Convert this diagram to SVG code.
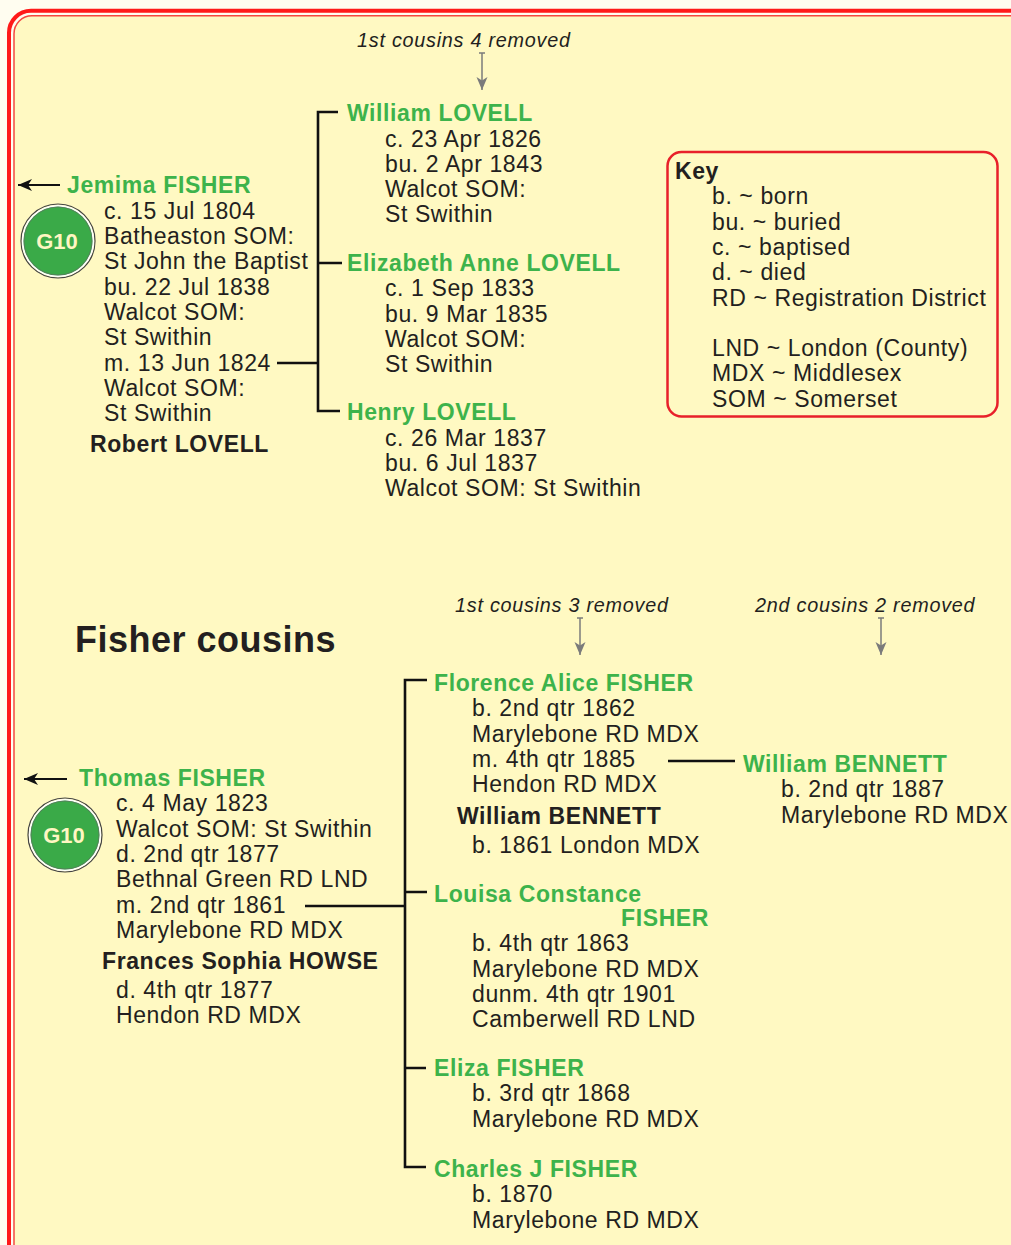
<svg xmlns="http://www.w3.org/2000/svg" width="1011" height="1245" viewBox="0 0 1011 1245">
<defs>
<style>
.t{font-family:"Liberation Sans",Arial,Helvetica,sans-serif;font-size:23px;fill:#231f20;letter-spacing:0.6px}
.g{font-weight:bold;fill:#3db34b}
.b{font-weight:bold}
.i{font-style:italic;font-size:19.8px;letter-spacing:0.75px}
.h{font-weight:bold;font-size:36px;letter-spacing:0.5px}
.c{fill:none;stroke:#111;stroke-width:2.6}
.ga{stroke:#7b7b7b;stroke-width:1.5;fill:none}
.gl{font-family:"Liberation Sans",Arial,sans-serif;font-weight:bold;font-size:22px;fill:#fff6c2;text-anchor:middle}
</style>
<marker id="ab" markerUnits="userSpaceOnUse" markerWidth="16" markerHeight="14" refX="14" refY="7" orient="auto" overflow="visible">
<path d="M0,1 L14,7 L0,13 L4,7 Z" fill="#111"/>
</marker>
<marker id="ag" markerUnits="userSpaceOnUse" markerWidth="14" markerHeight="12" refX="13" refY="6" orient="auto" overflow="visible">
<path d="M0,0.5 L13,6 L0,11.5 L3.5,6 Z" fill="#7b7b7b"/>
</marker>
</defs>
<rect x="0" y="0" width="1011" height="1245" fill="#fffdf0"/>
<g id="frame">
<rect x="9" y="10.8" width="1150" height="1300" rx="22" fill="#fffdf0" stroke="#ff1a1a" stroke-width="4"/>
<rect x="14" y="15.8" width="1150" height="1300" rx="18" fill="#fff9c2" stroke="#f5473f" stroke-width="1.5"/>
</g>
<g id="connectors">
<path class="c" d="M277,363 H318 M338,112 H318 V411 H340 M318,263 H342"/>
<path class="c" d="M305,906 H405 M427,680 H405 V1167 H426 M405,892 H427 M405,1068 H426 M668,761 H735"/>
<line x1="60" y1="185" x2="18" y2="185" stroke="#111" stroke-width="2.2" marker-end="url(#ab)"/>
<line x1="67" y1="779" x2="24" y2="779" stroke="#111" stroke-width="2.2" marker-end="url(#ab)"/>
<g class="ga">
<path d="M479,53 H485 M577,618 H583 M878,618 H884"/>
<line x1="482" y1="53" x2="482" y2="90" marker-end="url(#ag)"/>
<line x1="580" y1="618" x2="580" y2="655" marker-end="url(#ag)"/>
<line x1="881" y1="618" x2="881" y2="655" marker-end="url(#ag)"/>
</g>
</g>
<g id="labels">
<text class="t i" x="357" y="47">1st cousins 4 removed</text>
<text class="t i" x="455" y="612">1st cousins 3 removed</text>
<text class="t i" x="755" y="612">2nd cousins 2 removed</text>
<text class="t h" x="75" y="652">Fisher cousins</text>
</g>
<g id="g10-top">
<circle cx="58" cy="241" r="37" fill="none" stroke="#444" stroke-width="1.2"/>
<circle cx="58" cy="241" r="35.3" fill="#3aaa48" stroke="#fff" stroke-width="1.6"/>
<circle cx="58" cy="241" r="34" fill="none" stroke="#666" stroke-width="0.6"/>
<text class="gl" x="57" y="249">G10</text>
</g>
<g id="g10-bottom">
<circle cx="65" cy="835" r="37" fill="none" stroke="#444" stroke-width="1.2"/>
<circle cx="65" cy="835" r="35.3" fill="#3aaa48" stroke="#fff" stroke-width="1.6"/>
<circle cx="65" cy="835" r="34" fill="none" stroke="#666" stroke-width="0.6"/>
<text class="gl" x="64" y="843">G10</text>
</g>
<g id="jemima">
<text class="t g" x="67" y="193">Jemima FISHER</text>
<text class="t" x="104" y="218.5">c. 15 Jul 1804</text>
<text class="t" x="104" y="244">Batheaston SOM:</text>
<text class="t" x="104" y="269.3">St John the Baptist</text>
<text class="t" x="104" y="294.6">bu. 22 Jul 1838</text>
<text class="t" x="104" y="319.9">Walcot SOM:</text>
<text class="t" x="104" y="345.2">St Swithin</text>
<text class="t" x="104" y="370.5">m. 13 Jun 1824</text>
<text class="t" x="104" y="395.8">Walcot SOM:</text>
<text class="t" x="104" y="421.1">St Swithin</text>
<text class="t b" x="90" y="452">Robert LOVELL</text>
</g>
<g id="william-lovell">
<text class="t g" x="347" y="121">William LOVELL</text>
<text class="t" x="385" y="146.5">c. 23 Apr 1826</text>
<text class="t" x="385" y="171.8">bu. 2 Apr 1843</text>
<text class="t" x="385" y="197.1">Walcot SOM:</text>
<text class="t" x="385" y="222.4">St Swithin</text>
</g>
<g id="elizabeth-lovell">
<text class="t g" x="347" y="271">Elizabeth Anne LOVELL</text>
<text class="t" x="385" y="296.3">c. 1 Sep 1833</text>
<text class="t" x="385" y="321.6">bu. 9 Mar 1835</text>
<text class="t" x="385" y="346.9">Walcot SOM:</text>
<text class="t" x="385" y="372.2">St Swithin</text>
</g>
<g id="henry-lovell">
<text class="t g" x="347" y="420">Henry LOVELL</text>
<text class="t" x="385" y="445.5">c. 26 Mar 1837</text>
<text class="t" x="385" y="470.8">bu. 6 Jul 1837</text>
<text class="t" x="385" y="496.1">Walcot SOM: St Swithin</text>
</g>
<g id="key">
<rect x="667.5" y="152" width="330" height="264.5" rx="14" fill="none" stroke="#e8202a" stroke-width="2.5"/>
<text class="t b" x="675" y="179">Key</text>
<text class="t" x="712" y="204.3">b. ~ born</text>
<text class="t" x="712" y="229.6">bu. ~ buried</text>
<text class="t" x="712" y="254.9">c. ~ baptised</text>
<text class="t" x="712" y="280.2">d. ~ died</text>
<text class="t" x="712" y="305.5">RD ~ Registration District</text>
<text class="t" x="712" y="356.1">LND ~ London (County)</text>
<text class="t" x="712" y="381.4">MDX ~ Middlesex</text>
<text class="t" x="712" y="406.7">SOM ~ Somerset</text>
</g>
<g id="thomas">
<text class="t g" x="79" y="786">Thomas FISHER</text>
<text class="t" x="116" y="811.3">c. 4 May 1823</text>
<text class="t" x="116" y="836.6">Walcot SOM: St Swithin</text>
<text class="t" x="116" y="861.9">d. 2nd qtr 1877</text>
<text class="t" x="116" y="887.2">Bethnal Green RD LND</text>
<text class="t" x="116" y="912.5">m. 2nd qtr 1861</text>
<text class="t" x="116" y="937.8">Marylebone RD MDX</text>
<text class="t b" x="102" y="969">Frances Sophia HOWSE</text>
<text class="t" x="116" y="998">d. 4th qtr 1877</text>
<text class="t" x="116" y="1023.3">Hendon RD MDX</text>
</g>
<g id="florence">
<text class="t g" x="434" y="691">Florence Alice FISHER</text>
<text class="t" x="472" y="716.3">b. 2nd qtr 1862</text>
<text class="t" x="472" y="741.6">Marylebone RD MDX</text>
<text class="t" x="472" y="766.9">m. 4th qtr 1885</text>
<text class="t" x="472" y="792.2">Hendon RD MDX</text>
<text class="t b" x="457" y="824">William BENNETT</text>
<text class="t" x="472" y="853">b. 1861 London MDX</text>
</g>
<g id="william-bennett">
<text class="t g" x="743" y="772">William BENNETT</text>
<text class="t" x="781" y="797.3">b. 2nd qtr 1887</text>
<text class="t" x="781" y="822.6">Marylebone RD MDX</text>
</g>
<g id="louisa">
<text class="t g" x="434" y="902">Louisa Constance</text>
<text class="t g" x="709" y="926" text-anchor="end">FISHER</text>
<text class="t" x="472" y="951.3">b. 4th qtr 1863</text>
<text class="t" x="472" y="976.6">Marylebone RD MDX</text>
<text class="t" x="472" y="1001.9">dunm. 4th qtr 1901</text>
<text class="t" x="472" y="1027.2">Camberwell RD LND</text>
</g>
<g id="eliza">
<text class="t g" x="434" y="1076">Eliza FISHER</text>
<text class="t" x="472" y="1101.3">b. 3rd qtr 1868</text>
<text class="t" x="472" y="1126.6">Marylebone RD MDX</text>
</g>
<g id="charles">
<text class="t g" x="434" y="1177">Charles J FISHER</text>
<text class="t" x="472" y="1202.3">b. 1870</text>
<text class="t" x="472" y="1227.6">Marylebone RD MDX</text>
</g>
</svg>
